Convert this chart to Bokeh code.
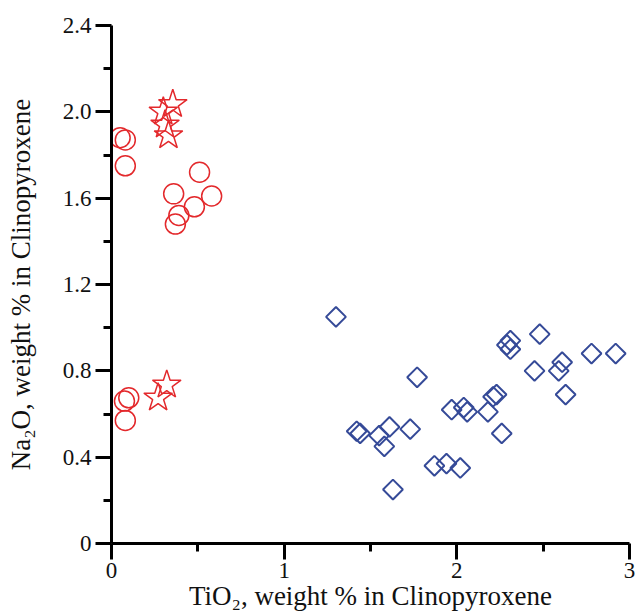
import numpy as np
from bokeh.plotting import figure
from bokeh.models import FixedTicker, Range1d
from bokeh.embed import file_html
from bokeh.resources import INLINE

# Red open circles
circle_tio2 = [0.05, 0.08, 0.08, 0.51, 0.36, 0.58, 0.48, 0.39, 0.37, 0.10, 0.075, 0.08]
circle_na2o = [1.88, 1.87, 1.75, 1.72, 1.62, 1.61, 1.56, 1.52, 1.48, 0.675, 0.66, 0.57]

# Red open stars
star_tio2 = [0.355, 0.30, 0.31, 0.33, 0.32, 0.27]
star_na2o = [2.035, 2.00, 1.94, 1.89, 0.735, 0.675]

# Blue open diamonds
diamond_tio2 = [1.30, 1.77, 1.97, 2.04, 2.06, 1.42, 1.44, 1.55, 1.61, 1.73, 1.58,
                1.87, 1.94, 2.02, 1.63, 2.48, 2.29, 2.31, 2.31, 2.78, 2.92, 2.61,
                2.59, 2.45, 2.63, 2.21, 2.23, 2.18, 2.26]
diamond_na2o = [1.05, 0.77, 0.62, 0.63, 0.61, 0.52, 0.51, 0.50, 0.54, 0.53, 0.45,
                0.36, 0.37, 0.35, 0.25, 0.97, 0.92, 0.94, 0.90, 0.88, 0.88, 0.84,
                0.80, 0.80, 0.69, 0.68, 0.69, 0.61, 0.51]

x_ticks = [0, 1, 2, 3]
x_minor = [0.5, 1.5, 2.5]
y_ticks = [0, 0.4, 0.8, 1.2, 1.6, 2.0, 2.4]
y_tick_labels = ["0", "0.4", "0.8", "1.2", "1.6", "2.0", "2.4"]
y_minor = [0.2, 0.6, 1.0, 1.4, 1.8, 2.2]

RED = "#e3292c"
BLUE = "#354a98"
FONT = "Liberation Serif"

p = figure(width=635, height=613, output_backend="svg", toolbar_location=None,
           x_range=Range1d(0, 3), y_range=Range1d(0, 2.4),
           min_border_left=111, min_border_right=6, min_border_top=25,
           min_border_bottom=70)

p.scatter(diamond_tio2, diamond_na2o, marker="square", angle=np.pi / 4, size=14,
          fill_color=None, line_color=BLUE, line_width=2)
p.scatter(circle_tio2, circle_na2o, marker="circle", size=20,
          fill_color=None, line_color=RED, line_width=1.5)
p.scatter(star_tio2, star_na2o, marker="star", size=30,
          fill_color=None, line_color=RED, line_width=1.5)

p.grid.visible = False
p.outline_line_color = None

p.xaxis.ticker = FixedTicker(ticks=x_ticks, minor_ticks=x_minor)
p.yaxis.ticker = FixedTicker(ticks=y_ticks, minor_ticks=y_minor)
p.yaxis.major_label_overrides = {t: lab for t, lab in zip(y_ticks, y_tick_labels)}

p.xaxis.axis_label = "TiO\u2082, weight % in Clinopyroxene"
p.yaxis.axis_label = "Na\u2082O, weight % in Clinopyroxene"

for ax in (p.xaxis[0], p.yaxis[0]):
    ax.axis_line_width = 3
    ax.axis_line_color = "black"
    ax.major_tick_line_width = 3
    ax.minor_tick_line_width = 3
    ax.major_tick_line_color = "black"
    ax.minor_tick_line_color = "black"
    ax.major_tick_out = 16
    ax.major_tick_in = 0
    ax.minor_tick_out = 8
    ax.minor_tick_in = 0
    ax.major_label_text_font = FONT
    ax.major_label_text_font_size = "23px"
    ax.major_label_text_color = "#111111"
    ax.axis_label_text_font = FONT
    ax.axis_label_text_font_size = "27px"
    ax.axis_label_text_font_style = "normal"
    ax.axis_label_text_color = "#111111"

p.xaxis.major_label_standoff = 3
p.xaxis.axis_label_standoff = 0
p.yaxis.major_label_standoff = 4
p.yaxis.axis_label_standoff = 24

open("out.html", "w").write(file_html(p, INLINE))
